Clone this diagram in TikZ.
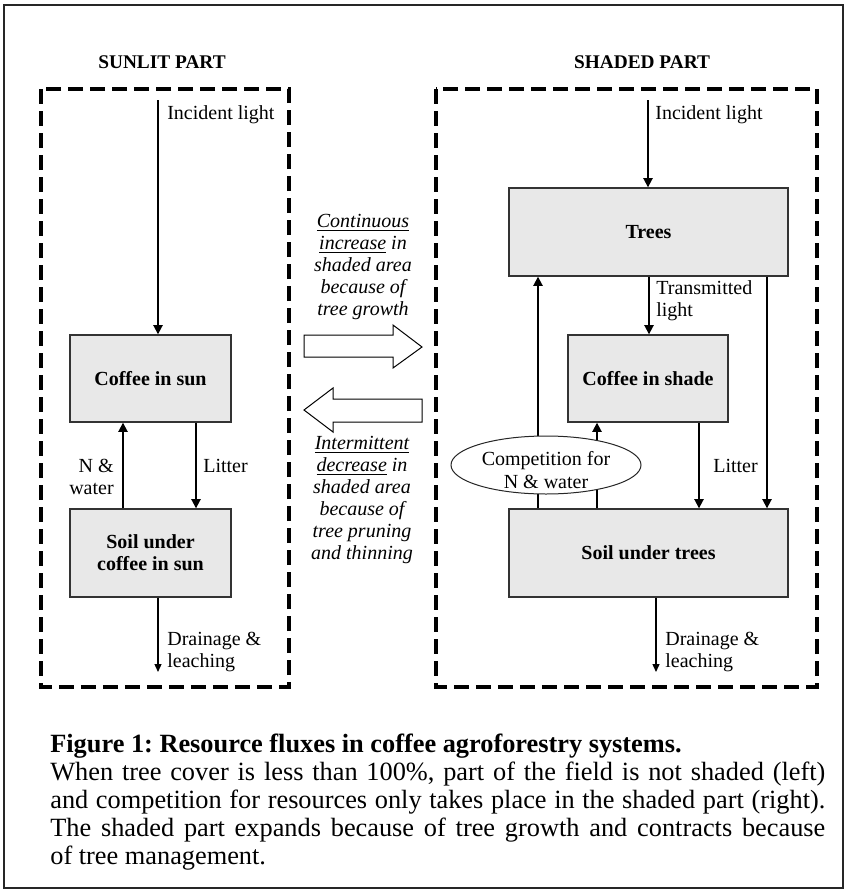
\documentclass[tikz,border=0pt]{standalone}
\usepackage{fontspec}
\setmainfont{Liberation Serif}
\usetikzlibrary{arrows.meta,shapes.geometric}
\newdimen\pxu \pxu=0.6pt
\frenchspacing
\begin{document}
\begin{tikzpicture}[x=0.6pt,y=-0.6pt,
  box/.style={draw=black!80, line width=0.7pt, fill=black!9, inner sep=0pt,
    font=\fontsize{12}{13.4}\selectfont\bfseries, align=center},
  lbl/.style={inner sep=0pt, font=\fontsize{12}{13.4}\selectfont},
  note/.style={inner sep=0pt, font=\fontsize{12}{13.2}\selectfont\itshape, align=center},
  heading/.style={inner sep=0pt, font=\fontsize{11.6}{13}\selectfont\bfseries},
  flow/.style={line width=1.4pt, -{Triangle[width=5.4pt,length=5.6pt]}},
  drain/.style={line width=0.8pt, -{Triangle[width=4.2pt,length=4.8pt]}},
  zone/.style={draw, line width=2.4pt, dash pattern=on 9pt off 4.2pt, line join=miter},
  hollow/.style={draw, line width=0.6pt, fill=white, line join=miter}]
\useasboundingbox (0,0) rectangle (845,890);
\draw[line width=0.9pt, black!85] (4,5) rectangle (843,888);

% headings
\node[heading] (sunT) at (162,62) {SUNLIT PART};
\node[heading] (shT) at (642,62) {SHADED PART};

% zones
\draw[zone] (41,89) rectangle (289,687);
\draw[zone] (436,89) rectangle (817,687);

% boxes
\node[box, minimum width=161\pxu, minimum height=87\pxu] (cs) at (150.5,378.5) {Coffee in sun};
\node[box, minimum width=161\pxu, minimum height=88\pxu] (ss) at (150.5,553) {Soil under\\coffee in sun};
\node[box, minimum width=279\pxu, minimum height=88\pxu] (tr) at (648.5,232) {Trees};
\node[box, minimum width=160\pxu, minimum height=87\pxu] (csh) at (648,378.5) {Coffee in shade};
\node[box, minimum width=279\pxu, minimum height=88\pxu] (st) at (648.5,553) {Soil under trees};

% left flows
\coordinate (xL) at (158,100);
\draw[flow] (xL) -- (xL |- cs.north);
\coordinate (xNW) at (123,0);
\draw[flow] (ss.north -| xNW) -- (cs.south -| xNW);
\coordinate (xLit) at (196,0);
\draw[flow] (cs.south -| xLit) -- (ss.north -| xLit);
\coordinate (dL) at (158,672);
\draw[drain] (ss.south -| dL) -- (dL);

% right flows
\coordinate (xR) at (648,100);
\draw[flow] (xR) -- (xR |- tr.north);
\coordinate (xT) at (649,0);
\draw[flow] (tr.south -| xT) -- (csh.north -| xT);
\coordinate (xTS) at (767,0);
\draw[flow] (tr.south -| xTS) -- (st.north -| xTS);
\coordinate (xST) at (538,0);
\draw[flow] (st.north -| xST) -- (tr.south -| xST);
\coordinate (xSC) at (597,0);
\draw[flow] (st.north -| xSC) -- (csh.south -| xSC);
\coordinate (xLS) at (699,0);
\draw[flow] (csh.south -| xLS) -- (st.north -| xLS);
\coordinate (dR) at (656,672);
\draw[drain] (st.south -| dR) -- (dR);

% competition ellipse
\node[ellipse, draw=black!85, line width=0.6pt, fill=white, inner sep=0pt,
  minimum width=190\pxu, minimum height=58\pxu] (comp) at (546,465) {};
\node[lbl, align=center] (compT) at (546,470) {Competition for\\N \& water};

% labels
\node[lbl, anchor=west] (incL) at (167,115) {Incident light};
\node[lbl, anchor=east, align=right] (nwL) at (114,477) {N \&\\water};
\node[lbl, anchor=west] (litL) at (203,466) {Litter};
\node[lbl, anchor=west, align=left] (drL) at (167,652) {Drainage \&\\leaching};
\node[lbl, anchor=west] (incR) at (655,115) {Incident light};
\node[lbl, anchor=west, align=left] (trL) at (656,301) {Transmitted\\light};
\node[lbl, anchor=west] (litR) at (713,466) {Litter};
\node[lbl, anchor=west, align=left] (drR) at (665,652) {Drainage \&\\leaching};

% exchange arrows
\draw[hollow] (304,335) -- (393,335) -- (393,325) -- (422,347) -- (393,368) -- (393,357) -- (304,357) -- cycle;
\draw[hollow] (422,399) -- (333,399) -- (333,388) -- (304,410) -- (333,432) -- (333,422) -- (422,422) -- cycle;
\node[note] (incT) at (363,267) {\underline{Continuous}\\\underline{increase} in\\shaded area\\because of\\tree growth};
\node[note] (decT) at (362,500) {\underline{Intermittent}\\\underline{decrease} in\\shaded area\\because of\\tree pruning\\and thinning};

% caption
\node[anchor=base west, inner sep=0pt] (cap) at (50,752) {\parbox[t]{465pt}{\fontsize{15.8}{16.9}\selectfont\parindent=0pt
\textbf{Figure 1: Resource fluxes in coffee agroforestry systems.}\par
When tree cover is less than 100\%, part of the field is not shaded (left)\linebreak
and competition for resources only takes place in the shaded part (right).\linebreak
The shaded part expands because of tree growth and contracts because\linebreak
of tree management.}};
\end{tikzpicture}
\end{document}
